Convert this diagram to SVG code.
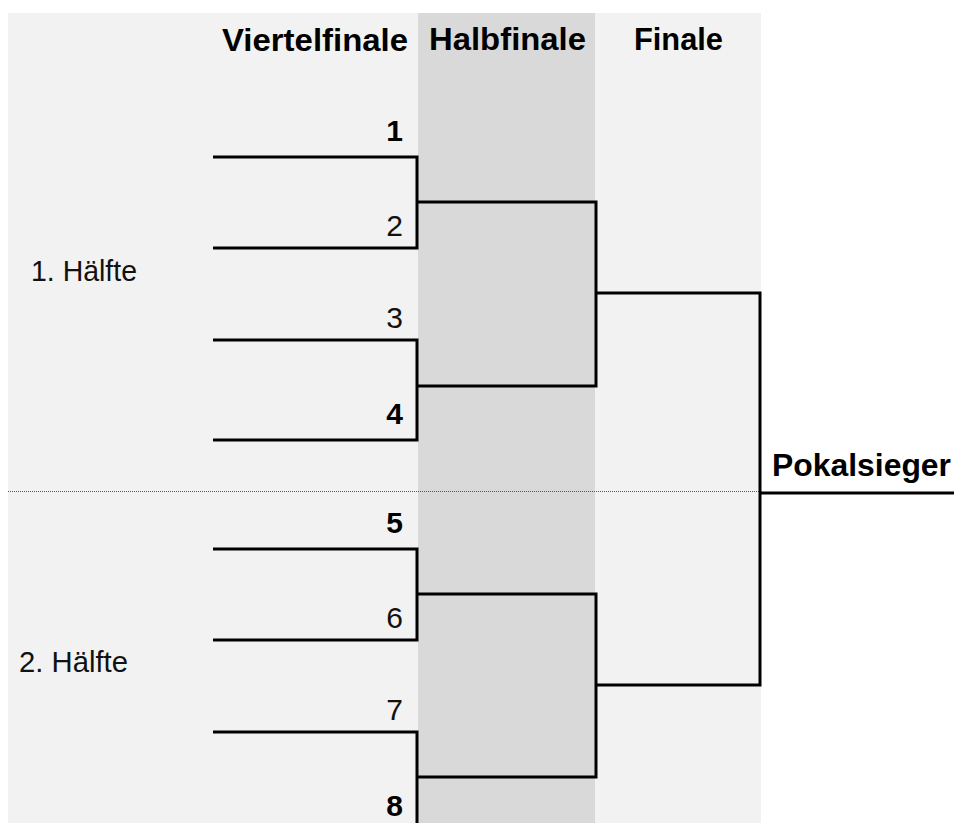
<svg xmlns="http://www.w3.org/2000/svg" width="954" height="823" viewBox="0 0 954 823">
  <style>
    .hdr { font-family: "Liberation Sans", Arial, sans-serif; font-weight: bold; font-size: 32px; fill: #000; }
    .num { font-family: "Liberation Sans", Arial, sans-serif; font-size: 30px; fill: #111; text-anchor: end; }
    .b { font-weight: bold; fill: #000; }
    .half { font-family: "Liberation Sans", Arial, sans-serif; font-size: 29px; fill: #111; }
    .ln { fill: none; stroke: #000; stroke-width: 3; stroke-linejoin: miter; stroke-linecap: butt; }
  </style>
  <rect x="0" y="0" width="954" height="823" fill="#ffffff"/>
  <g id="background">
    <rect x="8" y="13" width="753" height="810" fill="#f2f2f2"/>
    <rect x="418" y="13" width="177" height="810" fill="#d9d9d9"/>
    <line x1="8" y1="491.5" x2="760" y2="491.5" stroke="#555" stroke-width="1" stroke-dasharray="1,1"/>
  </g>
  <g id="headers">
    <text class="hdr" x="222" y="51" textLength="186" lengthAdjust="spacingAndGlyphs">Viertelfinale</text>
    <text class="hdr" x="429" y="50" textLength="157" lengthAdjust="spacingAndGlyphs">Halbfinale</text>
    <text class="hdr" x="634" y="50" textLength="89" lengthAdjust="spacingAndGlyphs">Finale</text>
  </g>
  <g id="halves">
    <text id="half1" class="half" x="31" y="281" textLength="106" lengthAdjust="spacingAndGlyphs">1. Hälfte</text>
    <text id="half2" class="half" x="19" y="672" textLength="109" lengthAdjust="spacingAndGlyphs">2. Hälfte</text>
  </g>
  <g id="team1"><text class="num b" x="403" y="141">1</text></g>
  <g id="team2"><text class="num" x="403" y="236">2</text></g>
  <g id="team3"><text class="num" x="403" y="328">3</text></g>
  <g id="team4"><text class="num b" x="403" y="424">4</text></g>
  <g id="team5"><text class="num b" x="403" y="533">5</text></g>
  <g id="team6"><text class="num" x="403" y="628">6</text></g>
  <g id="team7"><text class="num" x="403" y="720">7</text></g>
  <g id="team8"><text class="num b" x="403" y="816">8</text></g>
  <g id="winner"><text class="hdr" x="772" y="476" font-size="28" textLength="179" lengthAdjust="spacingAndGlyphs">Pokalsieger</text></g>
  <g id="connectors">
    <path class="ln" d="M213 157 H417 V248 H213"/>
    <path class="ln" d="M213 340 H417 V440 H213"/>
    <path class="ln" d="M213 549 H417 V640 H213"/>
    <path class="ln" d="M213 732 H417 V823"/>
    <path class="ln" d="M417 202 H596 V386 H417"/>
    <path class="ln" d="M417 594 H596 V777 H417"/>
    <path class="ln" d="M596 293 H760 V685 H596"/>
    <path class="ln" d="M760 493 H954"/>
  </g>
</svg>
